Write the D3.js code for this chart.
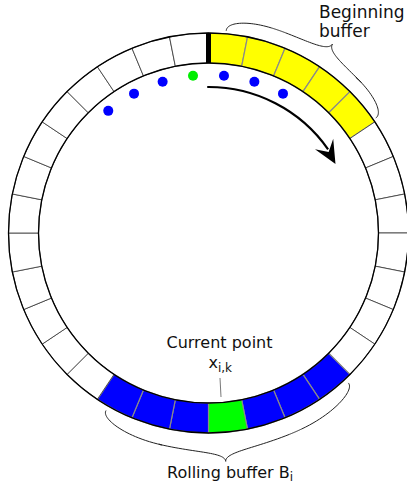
<!DOCTYPE html>
<html>
<head>
<meta charset="utf-8">
<script src="https://cdn.jsdelivr.net/npm/d3@7"></script>
<style>
  body { margin: 0; background: #fff; }
  text { font-family: "DejaVu Sans", sans-serif; fill: #111; }
</style>
</head>
<body>
<div id="graph"></div>
<script>
// ring of cells, index 0 starts at 12 o'clock and goes clockwise
const nCells = 32;
const beginningCells = [0, 1, 2, 3, 4];
const rollingCells = [12, 13, 14, 16, 17, 18];
const currentCell = 15;
// dots drawn inside the ring (cell index they sit on)
const blueDots = [28, 29, 30, 0, 1, 2];
const greenDots = [31];

const svgWidth = 407;
const svgHeight = 484;
const cx = 208.5, cy = 233;
const rOuter = 200, rInner = 170, rDots = 158, rArrow = 146;

const svg = d3.select('#graph')
  .append('svg')
  .attr('width', svgWidth)
  .attr('height', svgHeight);

// angle scale: cell index -> radians
const angle = d3.scaleLinear()
  .domain([0, nCells])
  .range([0, 2 * Math.PI]);

const deg = d => d * Math.PI / 180;
const polar = (a, r) => [cx + r * Math.sin(a), cy - r * Math.cos(a)];

const cellArc = d3.arc()
  .innerRadius(rInner)
  .outerRadius(rOuter)
  .startAngle(i => angle(i))
  .endAngle(i => angle(i + 1));

const cellFill = i => {
  if (i === currentCell) return '#00ff00';
  if (rollingCells.includes(i)) return '#0000ff';
  if (beginningCells.includes(i)) return '#ffff00';
  return '#ffffff';
};

const ring = svg.append('g').attr('transform', `translate(${cx},${cy})`);

ring.selectAll('.cell')
  .data(d3.range(nCells))
  .enter()
  .append('path')
  .attr('class', 'cell')
  .attr('d', cellArc)
  .attr('fill', cellFill)
  .attr('stroke', i => cellFill(i) === '#ffffff' ? '#333' : '#8a8a8a')
  .attr('stroke-width', i => cellFill(i) === '#ffffff' ? 0.8 : 1.2);

// ring outlines
ring.append('circle').attr('r', rOuter).attr('fill', 'none').attr('stroke', '#000').attr('stroke-width', 1.3);
ring.append('circle').attr('r', rInner).attr('fill', 'none').attr('stroke', '#000').attr('stroke-width', 1.3);

// thick start marker at 12 o'clock
const m0 = polar(angle(0), rInner), m1 = polar(angle(0), rOuter);
svg.append('line')
  .attr('x1', m0[0]).attr('y1', m0[1])
  .attr('x2', m1[0]).attr('y2', m1[1])
  .attr('stroke', '#000')
  .attr('stroke-width', 5);

// dots
const dot = (cells, color) => {
  svg.selectAll(null)
    .data(cells)
    .enter()
    .append('circle')
    .attr('cx', c => polar(angle(c + 0.5), rDots)[0])
    .attr('cy', c => polar(angle(c + 0.5), rDots)[1])
    .attr('r', 5)
    .attr('fill', color);
};
dot(blueDots, '#0000ff');
dot(greenDots, '#00ee00');

// direction arrow
const arrowStart = deg(-0.5), arrowEnd = deg(55), arrowTip = deg(61.5);
const arrowArc = d3.arc()
  .innerRadius(rArrow).outerRadius(rArrow)
  .startAngle(arrowStart).endAngle(arrowEnd);
ring.append('path')
  .attr('d', arrowArc())
  .attr('fill', 'none')
  .attr('stroke', '#000')
  .attr('stroke-width', 2.2);

const tip = polar(arrowTip, rArrow - 1.5);
const back = polar(deg(52), rArrow);
let dx = tip[0] - back[0], dy = tip[1] - back[1];
const len = Math.hypot(dx, dy);
dx /= len; dy /= len;
const nx = -dy, ny = dx;
const L = 23, W = 10.5;
const headPts = [
  tip,
  [tip[0] - L * dx + W * nx, tip[1] - L * dy + W * ny],
  [tip[0] - 0.6 * L * dx, tip[1] - 0.6 * L * dy],
  [tip[0] - L * dx - W * nx, tip[1] - L * dy - W * ny]
];
svg.append('path')
  .attr('d', 'M' + headPts.map(p => p.join(',')).join('L') + 'Z')
  .attr('fill', '#000');

// curly brace following the ring: a0 -> a1, base radius r0, height h, tip at fraction m
const brace = (a0, a1, r0, h, m) => {
  const q = 0.24;
  const segs = [
    [[0, 0], [0, h / 2], [q, h / 2]],
    [[q, h / 2], [m / 2, h / 2], [m - q, h / 2]],
    [[m - q, h / 2], [m, h / 2], [m, h]],
    [[m, h], [m, h / 2], [m + q, h / 2]],
    [[m + q, h / 2], [(m + 1) / 2, h / 2], [1 - q, h / 2]],
    [[1 - q, h / 2], [1, h / 2], [1, 0]]
  ];
  const pts = [];
  segs.forEach(([p0, p1, p2]) => {
    for (let s = 0; s <= 30; s++) {
      const t = s / 30;
      const u = (1 - t) * (1 - t) * p0[0] + 2 * (1 - t) * t * p1[0] + t * t * p2[0];
      const v = (1 - t) * (1 - t) * p0[1] + 2 * (1 - t) * t * p1[1] + t * t * p2[1];
      pts.push(polar(a0 + u * (a1 - a0), r0 + v));
    }
  });
  svg.append('path')
    .attr('d', d3.line()(pts))
    .attr('fill', 'none')
    .attr('stroke', '#222')
    .attr('stroke-width', 1);
};
brace(deg(5), deg(55.5), 203, 23, 0.56);
brace(deg(210), deg(137), 205, 24, 0.47);

// labels
svg.append('text').attr('x', 319).attr('y', 18).attr('font-size', 17).text('Beginning');
svg.append('text').attr('x', 319).attr('y', 37).attr('font-size', 17).text('buffer');

svg.append('text').attr('x', 219.5).attr('y', 348).attr('font-size', 16)
  .attr('text-anchor', 'middle').text('Current point');
const xt = svg.append('text').attr('x', 208.5).attr('y', 368).attr('font-size', 16);
xt.append('tspan').text('x');
xt.append('tspan').attr('dy', 4).attr('font-size', 12).text('i,k');

svg.append('line')
  .attr('x1', 220).attr('y1', 378)
  .attr('x2', 221).attr('y2', 397)
  .attr('stroke', '#555')
  .attr('stroke-width', 0.8);

const rt = svg.append('text').attr('x', 167).attr('y', 478).attr('font-size', 16);
rt.append('tspan').text('Rolling buffer B');
rt.append('tspan').attr('dy', 2.5).attr('font-size', 12).text('i');
</script>
</body>
</html>
